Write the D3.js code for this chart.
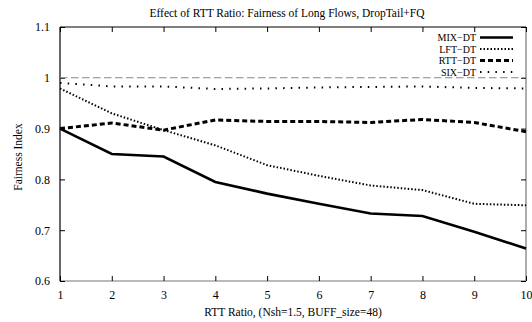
<!DOCTYPE html>
<html>
<head>
<meta charset="utf-8">
<script src="https://cdn.jsdelivr.net/npm/d3@7"></script>
<style>
  html, body { margin: 0; padding: 0; background: #fff; }
  svg { display: block; font-family: "Liberation Serif", "DejaVu Serif", serif; }
</style>
</head>
<body>
<svg id="chart" width="532" height="322"></svg>
<script>
// RTT ratio on the x axis
const rttRatio = [1, 2, 3, 4, 5, 6, 7, 8, 9, 10];

// Fairness index of long flows for each scenario
const mixDT = [0.900, 0.850, 0.845, 0.795, 0.772, 0.752, 0.733, 0.728, 0.697, 0.664];
const lftDT = [0.979, 0.930, 0.897, 0.867, 0.828, 0.807, 0.788, 0.779, 0.752, 0.749];
const rttDT = [0.900, 0.911, 0.897, 0.917, 0.914, 0.914, 0.912, 0.918, 0.912, 0.894];
const sixDT = [0.990, 0.983, 0.983, 0.978, 0.979, 0.981, 0.982, 0.983, 0.980, 0.979];

const xTicks = [1, 2, 3, 4, 5, 6, 7, 8, 9, 10];
const yTicks = [0.6, 0.7, 0.8, 0.9, 1.0, 1.1];
const referenceLevel = 1.0;

const series = [
  { name: "MIX\u2212DT", values: mixDT, width: 2.6, dash: null },
  { name: "LFT\u2212DT", values: lftDT, width: 2, dash: "1.5,2" },
  { name: "RTT\u2212DT", values: rttDT, width: 3, dash: "5,3" },
  { name: "SIX\u2212DT", values: sixDT, width: 2, dash: "1.5,6.2" }
];

const margin = { left: 60, right: 6, top: 27, bottom: 41 };
const W = 532, H = 322;
const svg = d3.select("#chart");

const x = d3.scaleLinear().domain([1, 10]).range([margin.left, W - margin.right]);
const y = d3.scaleLinear().domain([0.6, 1.1]).range([H - margin.bottom, margin.top]);

const x0 = x.range()[0], x1 = x.range()[1];
const y0 = y.range()[0], y1 = y.range()[1];
const tick = 5;

// Title
svg.append("text")
  .attr("x", 287).attr("y", 17)
  .attr("text-anchor", "middle")
  .attr("font-size", 11.5)
  .text("Effect of RTT Ratio: Fairness of Long Flows, DropTail+FQ");

// Frame: bottom and right in grey
svg.append("line").attr("x1", x0).attr("x2", x1).attr("y1", y0).attr("y2", y0)
  .attr("stroke", "#777").attr("stroke-width", 1.2);
svg.append("line").attr("x1", x1).attr("x2", x1).attr("y1", y0).attr("y2", y1)
  .attr("stroke", "#777").attr("stroke-width", 1.2);

// Bottom axis with inward ticks
const xAxis = d3.axisBottom(x).tickValues(xTicks).tickSizeInner(-tick).tickSizeOuter(0).tickPadding(9)
  .tickFormat(d3.format("d"));
const gx = svg.append("g").attr("transform", `translate(0,${y0})`).call(xAxis);
gx.select(".domain").remove();
gx.selectAll(".tick line").attr("stroke", "#000");
gx.selectAll("text").attr("font-size", 12).attr("font-family", "Liberation Serif, serif").attr("fill", "#000");

// Top mirrored ticks
const gxt = svg.append("g").attr("transform", `translate(0,${y1})`)
  .call(d3.axisTop(x).tickValues(xTicks).tickSizeInner(-tick).tickSizeOuter(0).tickFormat(""));
gxt.select(".domain").remove();
gxt.selectAll(".tick line").attr("stroke", "#000");

// Left axis with inward ticks
const yAxis = d3.axisLeft(y).tickValues(yTicks).tickSizeInner(-tick).tickSizeOuter(0).tickPadding(10)
  .tickFormat(d => d3.format("~g")(d));
const gy = svg.append("g").attr("transform", `translate(${x0},0)`).call(yAxis);
gy.select(".domain").remove();
gy.selectAll(".tick line").attr("stroke", "#000");
gy.selectAll("text").attr("font-size", 12).attr("font-family", "Liberation Serif, serif").attr("fill", "#000");

// Right mirrored ticks
const gyr = svg.append("g").attr("transform", `translate(${x1},0)`)
  .call(d3.axisRight(y).tickValues(yTicks).tickSizeInner(-tick).tickSizeOuter(0).tickFormat(""));
gyr.select(".domain").remove();
gyr.selectAll(".tick line").attr("stroke", "#000");

// Frame: left and top in black
svg.append("line").attr("x1", x0).attr("x2", x1).attr("y1", y1).attr("y2", y1)
  .attr("stroke", "#000").attr("stroke-width", 1.2);
svg.append("line").attr("x1", x0).attr("x2", x0).attr("y1", y0).attr("y2", y1)
  .attr("stroke", "#000").attr("stroke-width", 1.2);

// Axis titles
svg.append("text")
  .attr("x", (x0 + x1) / 2).attr("y", 316)
  .attr("text-anchor", "middle").attr("font-size", 11.5)
  .text("RTT Ratio, (Nsh=1.5, BUFF_size=48)");
svg.append("text")
  .attr("transform", `translate(22,157) rotate(-90)`)
  .attr("text-anchor", "middle").attr("font-size", 11.5)
  .text("Fairness Index");

// Reference line at fairness 1
svg.append("line")
  .attr("x1", x0).attr("x2", x1)
  .attr("y1", y(referenceLevel)).attr("y2", y(referenceLevel))
  .attr("stroke", "#888").attr("stroke-width", 1.1)
  .attr("stroke-dasharray", "7.5,3.5");

// Series lines
const line = d3.line().x((d, i) => x(rttRatio[i])).y(d => y(d));
series.forEach(s => {
  svg.append("path")
    .datum(s.values)
    .attr("d", line)
    .attr("fill", "none")
    .attr("stroke", "#000")
    .attr("stroke-width", s.width)
    .attr("stroke-linejoin", "miter")
    .attr("stroke-dasharray", s.dash);
});

// Legend, top right inside the frame
const legend = svg.append("g");
series.forEach((s, i) => {
  const ly = 37.5 + i * 11.5;
  legend.append("text")
    .attr("x", 476).attr("y", ly + 3.5)
    .attr("text-anchor", "end").attr("font-size", 10)
    .text(s.name);
  legend.append("line")
    .attr("x1", 480).attr("x2", 513).attr("y1", ly).attr("y2", ly)
    .attr("stroke", "#000")
    .attr("stroke-width", s.width)
    .attr("stroke-dasharray", s.dash);
});
</script>
</body>
</html>
